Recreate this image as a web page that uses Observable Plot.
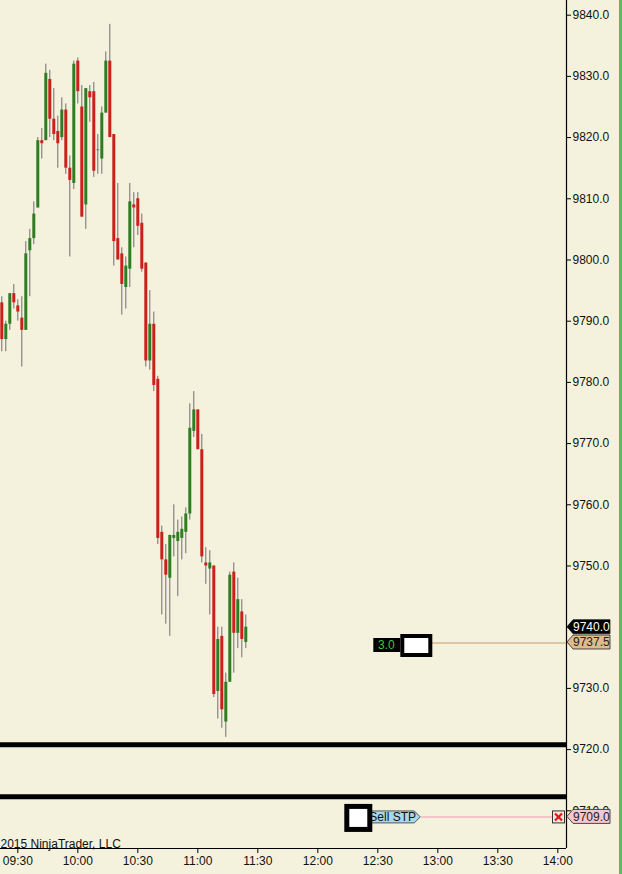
<!DOCTYPE html>
<html>
<head>
<meta charset="utf-8">
<script src="https://cdn.jsdelivr.net/npm/d3@7"></script>
<script src="https://cdn.jsdelivr.net/npm/@observablehq/plot@0.6"></script>
<style>
  html, body { margin: 0; padding: 0; background: #f4f2dc; overflow: hidden; }
  #chart svg { display: block; }
</style>
</head>
<body>
<div id="chart"></div>
<script>
// 2-minute bars
const barTimes = [
  "09:22","09:24","09:26","09:28","09:30","09:32","09:34","09:36","09:38","09:40",
  "09:42","09:44","09:46","09:48","09:50","09:52","09:54","09:56","09:58","10:00",
  "10:02","10:04","10:06","10:08","10:10","10:12","10:14","10:16","10:18","10:20",
  "10:22","10:24","10:26","10:28","10:30","10:32","10:34","10:36","10:38","10:40",
  "10:42","10:44","10:46","10:48","10:50","10:52","10:54","10:56","10:58","11:00",
  "11:02","11:04","11:06","11:08","11:10","11:12","11:14","11:16","11:18","11:20",
  "11:22","11:24"
];
const opens = [
  9793, 9787, 9789.5, 9794.5, 9792.5, 9790.5, 9788.5, 9801.5, 9803.5, 9808.5,
  9819.5, 9819.5, 9829.5, 9823, 9821, 9820, 9824.5, 9815, 9812.5, 9832.5,
  9825, 9809, 9827.5, 9827.5, 9818, 9816.5, 9824, 9832.5, 9820.5, 9803.5,
  9801, 9795.5, 9798.5, 9809, 9810, 9806, 9799.5, 9783.5, 9789.5, 9780.5,
  9755.5, 9751, 9748, 9754.5, 9754, 9754.5, 9755.5, 9758.5, 9772, 9775.5,
  9769, 9750.5, 9749.5, 9750, 9729.5, 9738.5, 9724.5, 9731, 9749, 9739,
  9742.5, 9737.5
];
const highs = [
  9794, 9790, 9794.5, 9796, 9793.5, 9794, 9803, 9805, 9809.5, 9820,
  9821.5, 9832, 9831, 9828, 9823.5, 9826.5, 9825.5, 9817, 9832.5, 9833,
  9828.5, 9828, 9828.5, 9829, 9820.5, 9825, 9834, 9838.5, 9820.5, 9812.5,
  9802, 9800.5, 9812.5, 9811, 9811, 9807.5, 9799.5, 9795, 9791.5, 9781,
  9756.5, 9753.5, 9755, 9760, 9757.5, 9758, 9759.5, 9776.5, 9778.5, 9775.5,
  9771.5, 9753, 9752.5, 9750, 9740, 9740, 9732.5, 9749, 9750.5, 9748,
  9744.5, 9742
];
const lows = [
  9785, 9785, 9788.5, 9792, 9790, 9782.5, 9788.5, 9794, 9802.5, 9808.5,
  9816.5, 9819.5, 9820, 9819.5, 9815, 9819.5, 9814, 9800.5, 9811.5, 9825.5,
  9807, 9805, 9822.5, 9813.5, 9814, 9814, 9824, 9820, 9799, 9800,
  9791, 9792, 9795.5, 9802, 9804, 9798, 9782.5, 9782, 9778.5, 9753.5,
  9742, 9740.5, 9738.5, 9751.5, 9745, 9751, 9752, 9757.5, 9771, 9769,
  9750.5, 9747, 9742, 9728.5, 9725, 9723.5, 9722, 9731, 9732.5, 9736.5,
  9735, 9736.5
];
const closes = [
  9787, 9789.5, 9794.5, 9793, 9791.5, 9788.5, 9801, 9803.5, 9807.5, 9819.5,
  9819, 9830.5, 9823, 9820.5, 9819, 9824.5, 9815, 9813, 9832, 9827.5,
  9807, 9828, 9826.5, 9814.5, 9818, 9824, 9832.5, 9820, 9803, 9800,
  9796, 9799, 9809.5, 9808.5, 9805.5, 9798.5, 9783.5, 9789.5, 9779.5, 9754.5,
  9751, 9748.5, 9755, 9755, 9755.5, 9756, 9758.5, 9772.5, 9775.5, 9769,
  9751.5, 9750, 9750.5, 9729, 9738, 9726.5, 9731, 9748.5, 9739, 9744.5,
  9738, 9740
];

// drawn horizontal lines and order / position levels
const drawnLines = [9720.8, 9712.3];
const lastPrice = 9740.0;
const positionPrice = 9737.5;
const positionQty = "3.0";
const positionTime = "12:41";
const stopPrice = 9709.0;
const stopTime = "12:14";
const stopLabel = "Sell STP";
const copyright = "2015 NinjaTrader, LLC";

const yTicks = [9710, 9720, 9730, 9740, 9750, 9760, 9770, 9780, 9790, 9800, 9810, 9820, 9830, 9840];
const xTicks = ["09:30","10:00","10:30","11:00","11:30","12:00","12:30","13:00","13:30","14:00"];
const xDomain = ["09:21:21", "14:04:21"];
const yDomain = [9703.84, 9842.4];

const bg = "#f4f2dc";
const upColor = "#2f7d23";
const downColor = "#cc1f1a";
const wickColor = "#6e6e6e";

const t = s => {
  const [h, m, sec] = s.split(":").map(Number);
  return new Date(Date.UTC(2015, 0, 1, h, m, sec || 0));
};

const bars = barTimes.map((s, i) => ({
  time: t(s), open: opens[i], high: highs[i], low: lows[i], close: closes[i]
}));

function orderMarks(index, scales, values, dim) {
  const X = scales.x, Y = scales.y;
  const ax = dim.width - dim.marginRight;
  const g = d3.create("svg:g")
    .attr("font-family", "'Liberation Sans', Arial, sans-serif")
    .attr("font-size", 12)
    .attr("text-anchor", "start");

  // position line + flag
  const py = Y(positionPrice);
  const px = X(t(positionTime));
  g.append("line").attr("x1", px + 32).attr("x2", ax).attr("y1", py + 1).attr("y2", py + 1)
    .attr("stroke", "#d6b690").attr("stroke-width", 1.5);
  g.append("rect").attr("x", px - 26).attr("y", py - 4).attr("width", 27).attr("height", 14).attr("fill", "#000");
  g.append("text").attr("x", px - 13).attr("y", py + 7.5).attr("text-anchor", "middle")
    .attr("fill", "#3cc83c").text(positionQty);
  g.append("rect").attr("x", px + 3).attr("y", py - 6).attr("width", 28).attr("height", 19)
    .attr("fill", "#fff").attr("stroke", "#000").attr("stroke-width", 4);

  // stop order
  const sy = Y(stopPrice);
  const sx = X(t(stopTime));
  g.append("line").attr("x1", sx + 76).attr("x2", ax - 14).attr("y1", sy + 0.5).attr("y2", sy + 0.5)
    .attr("stroke", "#f4b4c2").attr("stroke-width", 1.5);
  g.append("path")
    .attr("d", `M${sx + 21},${sy - 5.5}H${sx + 69}L${sx + 75},${sy + 0.5}L${sx + 69},${sy + 6.5}H${sx + 21}Z`)
    .attr("fill", "#acd6ea").attr("stroke", "#333").attr("stroke-width", 0.8);
  g.append("text").attr("x", sx + 24).attr("y", sy + 5).attr("fill", "#111").text(stopLabel);
  g.append("rect").attr("x", sx + 1.5).attr("y", sy - 10).attr("width", 23).attr("height", 23)
    .attr("fill", "#fff").attr("stroke", "#000").attr("stroke-width", 5);
  // cancel box
  const cx = ax - 13.5;
  g.append("rect").attr("x", cx).attr("y", sy - 5.5).attr("width", 12).attr("height", 12)
    .attr("fill", "#f7e6dc").attr("stroke", "#333").attr("stroke-width", 1);
  g.append("path").attr("d", `M${cx + 2.5},${sy - 3}L${cx + 9.5},${sy + 4}M${cx + 9.5},${sy - 3}L${cx + 2.5},${sy + 4}`)
    .attr("stroke", "#e01818").attr("stroke-width", 2.2);

  // axis flags
  const flag = (price, fill, color) => {
    const y = Y(price);
    g.append("path")
      .attr("d", `M${ax + 1},${y}L${ax + 7},${y - 7}H${ax + 44}V${y + 7}H${ax + 7}Z`)
      .attr("fill", fill).attr("stroke", "#222").attr("stroke-width", 0.8);
    g.append("text").attr("x", ax + 7).attr("y", y + 4.5).attr("fill", color).text(d3.format(".1f")(price));
  };
  flag(lastPrice, "#000", "#fff");
  flag(positionPrice, "#e0bb90", "#222");
  flag(stopPrice, "#f6c6d2", "#222");

  // green border
  g.append("rect").attr("x", dim.width - 3).attr("y", 0).attr("width", 3).attr("height", dim.height).attr("fill", "#5cba5e");
  return g.node();
}

const chart = Plot.plot({
  width: 622,
  height: 874,
  marginLeft: 0,
  marginRight: 56,
  marginTop: 0,
  marginBottom: 26,
  style: {
    background: bg,
    color: "#111",
    fontFamily: "'Liberation Sans', Arial, sans-serif",
    fontSize: "12px"
  },
  x: { type: "utc", domain: xDomain.map(t) },
  y: { domain: yDomain },
  marks: [
    Plot.ruleY(drawnLines, { stroke: "#000", strokeWidth: 5 }),
    Plot.ruleX(bars, { x: "time", y1: "low", y2: "high", stroke: wickColor, strokeWidth: 1 }),
    Plot.ruleX(bars, {
      x: "time",
      y1: "open",
      y2: d => d.close === d.open ? d.close - 0.15 : d.close,
      stroke: d => d.close > d.open ? upColor : d.close < d.open ? downColor : wickColor,
      strokeWidth: 3
    }),
    Plot.ruleX([xDomain.map(t)[1]], { stroke: "#000", strokeWidth: 1.2 }),
    Plot.ruleY([yDomain[0]], { stroke: "#000", strokeWidth: 1.2 }),
    // tick marks everywhere; the 9740.0 label sits under the last-price flag
    Plot.axisY({
      anchor: "right", ticks: yTicks, tickFormat: d => d === lastPrice ? "" : d3.format(".1f")(d),
      tickSize: 4, tickPadding: 2, fontSize: 12, label: null, stroke: "#000"
    }),
    Plot.axisX({
      ticks: xTicks.map(t), tickFormat: d3.utcFormat("%H:%M"),
      tickSize: 5, tickPadding: 3, fontSize: 12, label: null, stroke: "#000"
    }),
    Plot.text([copyright], {
      frameAnchor: "bottom-left", textAnchor: "start", lineAnchor: "bottom",
      dy: -1, fontSize: 12, fill: "#111"
    }),
    orderMarks
  ]
});

document.getElementById("chart").appendChild(chart);
</script>
</body>
</html>
